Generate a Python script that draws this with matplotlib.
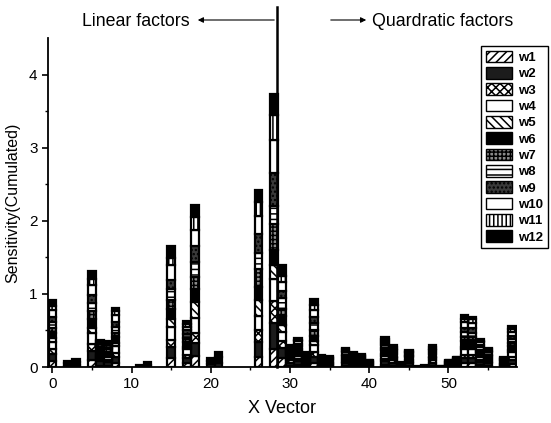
import matplotlib
matplotlib.use("Agg")
import matplotlib.pyplot as plt
from matplotlib.patches import Patch, FancyArrowPatch
import numpy as np

plt.rcParams['font.family'] = ['Liberation Sans', 'DejaVu Sans']
plt.rcParams['hatch.linewidth'] = 1.1

x_vector = list(range(59))
series_names = ["w1", "w2", "w3", "w4", "w5", "w6", "w7", "w8", "w9", "w10", "w11", "w12"]

w1 = [0.08, 0, 0, 0, 0, 0.10, 0.02, 0.02, 0.05, 0,
      0, 0, 0, 0, 0, 0.12, 0, 0.06, 0.15, 0,
      0, 0, 0, 0, 0, 0, 0.14, 0, 0.25, 0.12,
      0.02, 0.03, 0.01, 0.06, 0.01, 0.01, 0, 0.02, 0.01, 0.01,
      0.01, 0, 0.03, 0.02, 0, 0.02, 0, 0, 0.02, 0,
      0.01, 0.01, 0.05, 0.05, 0.03, 0.02, 0, 0.01, 0.04]
w2 = [0.10, 0, 0.02, 0.03, 0, 0.12, 0.06, 0.05, 0.08, 0,
      0, 0, 0.03, 0, 0, 0.15, 0, 0.06, 0.18, 0,
      0.04, 0.06, 0, 0, 0, 0, 0.20, 0, 0.35, 0.14,
      0.04, 0.05, 0.03, 0.08, 0.02, 0.02, 0, 0.03, 0.03, 0.02,
      0.01, 0, 0.05, 0.04, 0.02, 0.03, 0, 0.01, 0.04, 0,
      0.01, 0.02, 0.07, 0.07, 0.04, 0.03, 0, 0.02, 0.06]
w3 = [0.06, 0, 0, 0, 0, 0.10, 0.03, 0.03, 0.06, 0,
      0, 0, 0, 0, 0, 0.10, 0, 0.04, 0.14, 0,
      0, 0, 0, 0, 0, 0, 0.16, 0, 0.30, 0.10,
      0.03, 0.03, 0.02, 0.06, 0.01, 0.01, 0, 0.02, 0.02, 0.02,
      0.01, 0, 0.03, 0.03, 0, 0.02, 0, 0, 0.03, 0,
      0.01, 0.01, 0.05, 0.05, 0.03, 0.02, 0, 0.01, 0.04]
w4 = [0.10, 0, 0, 0, 0, 0.14, 0.03, 0.03, 0.10, 0,
      0, 0, 0, 0, 0, 0.18, 0, 0.08, 0.20, 0,
      0, 0, 0, 0, 0, 0, 0.20, 0, 0.30, 0.12,
      0.03, 0.04, 0.02, 0.10, 0.02, 0.02, 0, 0.03, 0.02, 0.02,
      0.01, 0, 0.04, 0.03, 0.01, 0.02, 0, 0, 0.03, 0,
      0.01, 0.01, 0.07, 0.07, 0.04, 0.03, 0, 0.01, 0.06]
w5 = [0.05, 0, 0, 0, 0, 0.08, 0.02, 0.02, 0.04, 0,
      0, 0, 0, 0, 0, 0.10, 0, 0.04, 0.22, 0,
      0, 0, 0, 0, 0, 0, 0.22, 0, 0.20, 0.10,
      0.02, 0.02, 0.01, 0.05, 0.01, 0.01, 0, 0.02, 0.01, 0.01,
      0.01, 0, 0.03, 0.02, 0, 0.01, 0, 0, 0.02, 0,
      0.01, 0.01, 0.04, 0.04, 0.02, 0.02, 0, 0.01, 0.03]
w6 = [0.08, 0, 0.03, 0.04, 0, 0.12, 0.06, 0.06, 0.08, 0,
      0, 0.03, 0.04, 0, 0, 0.14, 0, 0.06, 0.18, 0,
      0.04, 0.07, 0, 0, 0, 0, 0.18, 0, 0.20, 0.12,
      0.04, 0.05, 0.03, 0.08, 0.02, 0.02, 0, 0.03, 0.03, 0.03,
      0.01, 0, 0.05, 0.04, 0.02, 0.03, 0.01, 0.01, 0.04, 0.01,
      0.01, 0.02, 0.07, 0.07, 0.04, 0.03, 0, 0.02, 0.06]
w7 = [0.06, 0, 0, 0, 0, 0.10, 0.03, 0.03, 0.06, 0,
      0, 0, 0, 0, 0, 0.12, 0, 0.05, 0.16, 0,
      0, 0, 0, 0, 0, 0, 0.24, 0, 0.35, 0.10,
      0.02, 0.03, 0.01, 0.07, 0.01, 0.01, 0, 0.02, 0.01, 0.01,
      0.01, 0, 0.03, 0.02, 0, 0.02, 0, 0, 0.02, 0,
      0.01, 0.01, 0.06, 0.06, 0.03, 0.02, 0, 0.01, 0.04]
w8 = [0.08, 0, 0, 0, 0, 0.12, 0.02, 0.02, 0.08, 0,
      0, 0, 0, 0, 0, 0.16, 0, 0.06, 0.20, 0,
      0, 0, 0, 0, 0, 0, 0.22, 0, 0.25, 0.14,
      0.03, 0.04, 0.02, 0.10, 0.02, 0.01, 0, 0.03, 0.02, 0.02,
      0.01, 0, 0.04, 0.03, 0.01, 0.02, 0, 0, 0.03, 0,
      0.01, 0.01, 0.07, 0.06, 0.04, 0.03, 0, 0.01, 0.05]
w9 = [0.07, 0, 0, 0, 0, 0.10, 0.04, 0.04, 0.07, 0,
      0, 0, 0, 0, 0, 0.12, 0, 0.05, 0.22, 0,
      0, 0, 0, 0, 0, 0, 0.26, 0, 0.45, 0.10,
      0.02, 0.03, 0.02, 0.08, 0.01, 0.01, 0, 0.02, 0.02, 0.01,
      0.01, 0, 0.03, 0.02, 0, 0.02, 0, 0, 0.02, 0,
      0.01, 0.01, 0.06, 0.06, 0.03, 0.02, 0, 0.01, 0.04]
w10 = [0.10, 0, 0, 0, 0, 0.14, 0.02, 0.02, 0.09, 0,
       0, 0, 0, 0, 0, 0.20, 0, 0.05, 0.22, 0,
       0, 0, 0, 0, 0, 0, 0.24, 0, 0.45, 0.12,
       0.02, 0.03, 0.01, 0.10, 0.01, 0.01, 0, 0.02, 0.01, 0.01,
       0, 0, 0.03, 0.02, 0, 0.02, 0, 0, 0.02, 0,
       0, 0.01, 0.07, 0.07, 0.04, 0.02, 0, 0.01, 0.06]
w11 = [0.05, 0, 0, 0, 0, 0.08, 0.02, 0.01, 0.05, 0,
       0, 0, 0, 0, 0, 0.10, 0, 0.04, 0.18, 0,
       0, 0, 0, 0, 0, 0, 0.20, 0, 0.35, 0.08,
       0.01, 0.02, 0.01, 0.07, 0.01, 0.01, 0, 0.01, 0.01, 0.01,
       0, 0, 0.02, 0.01, 0, 0.01, 0, 0, 0.01, 0,
       0, 0.01, 0.05, 0.05, 0.02, 0.01, 0, 0, 0.04]
w12 = [0.08, 0, 0.03, 0.04, 0, 0.11, 0.02, 0.02, 0.05, 0,
       0, 0, 0, 0, 0, 0.16, 0, 0.04, 0.16, 0,
       0.04, 0.07, 0, 0, 0, 0, 0.16, 0, 0.28, 0.15,
       0.02, 0.02, 0.01, 0.08, 0.01, 0.01, 0, 0.01, 0.01, 0.01,
       0.01, 0, 0.03, 0.02, 0.01, 0.01, 0, 0.01, 0.02, 0.01,
       0.01, 0.01, 0.05, 0.04, 0.02, 0.01, 0, 0.01, 0.04]

series = [w1, w2, w3, w4, w5, w6, w7, w8, w9, w10, w11, w12]

# fill colour and hatch for each series (black-and-white print style)
styles = [
    ("white", "////"),
    ("#1c1c1c", None),
    ("white", "xxxx"),
    ("white", None),
    ("white", "\\\\\\\\"),
    ("black", None),
    ("#8a8a8a", "++++"),
    ("white", "---"),
    ("#3a3a3a", "...."),
    ("white", None),
    ("white", "||||"),
    ("black", None),
]

W, H = 551, 423
fig = plt.figure(figsize=(W / 100, H / 100), dpi=100)
ax = fig.add_axes([48 / W, 1 - 367 / H, (517 - 48) / W, (367 - 38) / H])

xs = np.array(x_vector, dtype=float)
bottom = np.zeros(len(xs))
for vals, (fc, hatch) in zip(series, styles):
    v = np.array(vals, dtype=float)
    m = v > 0
    ax.bar(xs[m], v[m], width=0.95, bottom=bottom[m], color=fc, hatch=hatch,
           edgecolor="black", linewidth=1.6, zorder=2)
    bottom += v

ax.set_xlim(-0.55, 58.65)
ax.set_ylim(0, 4.5)
for s in ["top", "right"]:
    ax.spines[s].set_visible(False)
for s in ["left", "bottom"]:
    ax.spines[s].set_linewidth(1.3)

ax.set_xticks([0, 10, 20, 30, 40, 50])
ax.set_xticks([5, 15, 25, 35, 45, 55], minor=True)
ax.set_yticks([0, 1, 2, 3, 4])
ax.set_yticks([0.5, 1.5, 2.5, 3.5], minor=True)
ax.tick_params(axis="both", which="major", direction="out", length=4.5, width=1.2,
               labelsize=11, pad=3)
ax.tick_params(axis="both", which="minor", direction="out", length=2.5, width=1.0)

ax.set_xlabel("X Vector", fontsize=13, labelpad=6)
ax.set_ylabel("Sensitivity(Cumulated)", fontsize=11.5, labelpad=6)

# separator line between linear and quadratic factors
ax.plot([28.4, 28.4], [0, 4.93], color="black", linewidth=1.8, clip_on=False, zorder=3)

def fx(px):
    return px / W

def fy(py):
    return 1 - py / H

fig.text(fx(190), fy(21), "Linear factors", ha="right", va="center", fontsize=12.8)
fig.text(fx(372), fy(21), "Quardratic factors", ha="left", va="center", fontsize=12.8)
fig.add_artist(FancyArrowPatch(
    (fx(277), fy(20)), (fx(195), fy(20)), transform=fig.transFigure,
    arrowstyle="-|>", mutation_scale=8, linewidth=0.8, color="black"))
fig.add_artist(FancyArrowPatch(
    (fx(328), fy(20)), (fx(369), fy(20)), transform=fig.transFigure,
    arrowstyle="-|>", mutation_scale=8, linewidth=0.8, color="black"))

handles = [Patch(facecolor=fc, hatch=h, edgecolor="black", linewidth=1.0)
           for fc, h in styles]
leg = ax.legend(handles, series_names, loc="upper left",
                bbox_to_anchor=(fx(481), fy(46)), bbox_transform=fig.transFigure,
                frameon=True, fancybox=False, edgecolor="black", framealpha=1,
                fontsize=9.5, handlelength=2.0, handleheight=1.0,
                labelspacing=0.22, handletextpad=0.45, borderpad=0.35,
                borderaxespad=0)
leg.get_frame().set_linewidth(1.0)
for t in leg.get_texts():
    t.set_fontweight("bold")

fig.savefig("out.png", dpi=100)
